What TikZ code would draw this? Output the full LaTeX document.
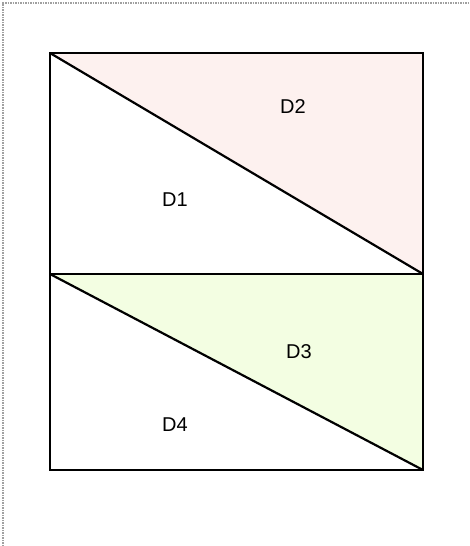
\documentclass[tikz,border=0pt]{standalone}
\usepackage{fontspec}
\setmainfont{Liberation Sans}
\definecolor{pinkfill}{RGB}{253,241,239}
\definecolor{greenfill}{RGB}{243,254,226}
\definecolor{framegray}{RGB}{160,160,160}
\begin{document}
\begin{tikzpicture}[x=1pt,y=-1pt,
  edge/.style={draw=black,line width=2.2pt,line join=miter},
  lbl/.style={font=\fontsize{20}{23}\selectfont,inner sep=0pt}]
\useasboundingbox (0,0) rectangle (470,546);
\draw[framegray,densely dotted,line width=1.5pt] (3,546) -- (3,3) -- (470,3);
\coordinate (TL) at (50,53);
\coordinate (TR) at (423,53);
\coordinate (ML) at (50,274);
\coordinate (MR) at (423,274);
\coordinate (BL) at (50,470);
\coordinate (BR) at (423,470);
\fill[pinkfill] (TL) -- (TR) -- (MR) -- cycle;
\fill[greenfill] (ML) -- (MR) -- (BR) -- cycle;
\draw[edge] (TL) rectangle (BR);
\draw[edge] (ML) -- (MR);
\draw[edge] (TL) -- (MR);
\draw[edge] (ML) -- (BR);
\node[lbl] (d2) at (293,107) {D2};
\node[lbl] (d1) at (175,200) {D1};
\node[lbl] (d3) at (299,352) {D3};
\node[lbl] (d4) at (175,425) {D4};
\end{tikzpicture}
\end{document}
